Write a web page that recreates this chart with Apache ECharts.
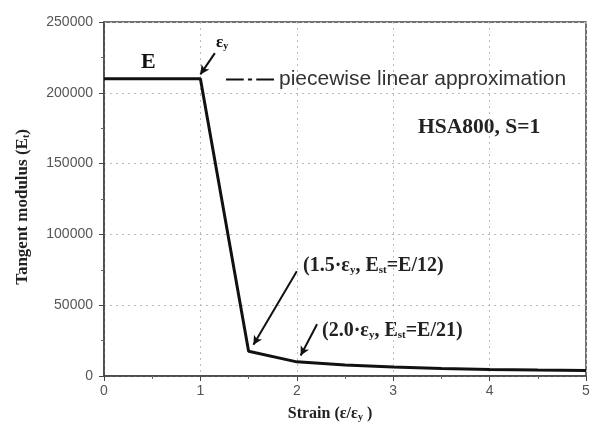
<!DOCTYPE html>
<html><head><meta charset="utf-8">
<script src="https://cdn.jsdelivr.net/npm/echarts@6/dist/echarts.min.js"></script>
<style>html,body{margin:0;padding:0;background:#fff}#c{width:605px;height:427px}</style>
</head><body><div id="c"></div>
<script>
const strain = [0, 1, 1.5, 2, 2.5, 3, 3.5, 4, 4.5, 5];
const modulus = [210000, 210000, 17500, 10000, 7800, 6300, 5300, 4600, 4200, 3900];
const seriesName = 'piecewise linear approximation';
const xTicks = [0, 1, 2, 3, 4, 5];
const yTicks = [0, 50000, 100000, 150000, 200000, 250000];
const arrows = [
  [[1.15, 228000], [1.0, 213000]],
  [[2.0, 74000], [1.55, 22000]],
  [[2.21, 36500], [2.04, 14500]]
];

const chart = echarts.init(document.getElementById('c'));
const times = '"Liberation Serif", "Times New Roman", serif';
const arial = '"Liberation Sans", Arial, sans-serif';
chart.setOption({
  animation: false,
  grid: { left: 104, right: 19, top: 22, bottom: 50, show: true, borderColor: '#444', borderWidth: 1.5 },
  legend: {
    left: 221, top: 64, itemWidth: 48, itemHeight: 6, itemGap: 8,
    icon: 'path://M0,2 L17,2 L17,4 L0,4 Z M21,2 L25,2 L25,4 L21,4 Z M29,2 L46,2 L46,4 L29,4 Z',
    textStyle: { fontFamily: arial, fontSize: 21, color: '#333' },
    data: [{ name: seriesName, itemStyle: { color: '#111' } }]
  },
  xAxis: {
    type: 'value', min: 0, max: 5, interval: 1,
    name: '{a|Strain (ε/ε}{s|y}{a| )}', nameLocation: 'middle', nameGap: 29,
    nameTextStyle: { padding: [0, 30, 0, 0], rich: {
      a: { fontFamily: times, fontWeight: 'bold', fontSize: 16, color: '#222' },
      s: { fontFamily: times, fontWeight: 'bold', fontSize: 10, color: '#222', verticalAlign: 'bottom', padding: [7, 0, 0, 0] }
    } },
    axisLine: { lineStyle: { color: '#444', width: 1.5 } },
    axisTick: { show: true, length: 5, lineStyle: { color: '#444' } },
    minorTick: { show: true, splitNumber: 2, length: 3, lineStyle: { color: '#666' } },
    axisLabel: { fontFamily: arial, fontSize: 14, color: '#555', margin: 8,
      formatter: v => xTicks.includes(v) ? String(v) : '' },
    splitLine: { show: true, lineStyle: { color: '#bbb', type: [2, 4], width: 1 } }
  },
  yAxis: {
    type: 'value', min: 0, max: 250000, interval: 50000,
    name: '{a|Tangent modulus (E}{s|t}{a|)}', nameLocation: 'middle', nameGap: 73, nameRotate: 90,
    nameTextStyle: { padding: [0, 16, 0, 0], rich: {
      a: { fontFamily: times, fontWeight: 'bold', fontSize: 17, color: '#222' },
      s: { fontFamily: times, fontWeight: 'bold', fontSize: 10, color: '#222', verticalAlign: 'bottom', padding: [7, 0, 0, 0] }
    } },
    axisLine: { show: true, lineStyle: { color: '#444', width: 1.5 } },
    axisTick: { show: true, length: 5, lineStyle: { color: '#444' } },
    minorTick: { show: true, splitNumber: 2, length: 3, lineStyle: { color: '#666' } },
    axisLabel: { fontFamily: arial, fontSize: 14, color: '#555', margin: 11,
      formatter: v => yTicks.includes(v) ? String(v) : '' },
    splitLine: { show: true, lineStyle: { color: '#bbb', type: [2, 4], width: 1 } }
  },
  series: [{
    name: seriesName, type: 'line', showSymbol: false, symbol: 'none',
    data: strain.map((x, i) => [x, modulus[i]]),
    lineStyle: { color: '#111', width: 3 }, itemStyle: { color: '#111' },
    markLine: {
      silent: true, symbolSize: [7, 9], animation: false,
      lineStyle: { color: '#111', width: 2, type: 'solid' }, label: { show: false },
      data: arrows.map(a => [
        { coord: a[0], symbol: 'none' },
        { coord: a[1], symbol: 'arrow' }
      ])
    }
  }],
  graphic: [
    { type: 'text', left: 141, top: 51, style: { text: 'E', font: 'bold 22px ' + times, fill: '#111' } },
    { type: 'text', left: 216, top: 34, style: {
      text: '{a|ε}{s|y}', rich: {
        a: { font: 'bold 17px ' + times, fill: '#111' },
        s: { font: 'bold 10px ' + times, fill: '#111', padding: [8, 0, 0, 0] } } } },
    { type: 'text', left: 418, top: 116, style: { text: 'HSA800, S=1', font: 'bold 21.5px ' + times, fill: '#222' } },
    { type: 'text', left: 303, top: 256, style: {
      text: '{a|(1.5·ε}{s|y}{a|, E}{s|st}{a|=E/12)}', rich: {
        a: { font: 'bold 20px ' + times, fill: '#222' },
        s: { font: 'bold 11px ' + times, fill: '#222', padding: [9, 0, 0, 0] } } } },
    { type: 'text', left: 322, top: 321, style: {
      text: '{a|(2.0·ε}{s|y}{a|, E}{s|st}{a|=E/21)}', rich: {
        a: { font: 'bold 20px ' + times, fill: '#222' },
        s: { font: 'bold 11px ' + times, fill: '#222', padding: [9, 0, 0, 0] } } } }
  ]
});
</script></body></html>
